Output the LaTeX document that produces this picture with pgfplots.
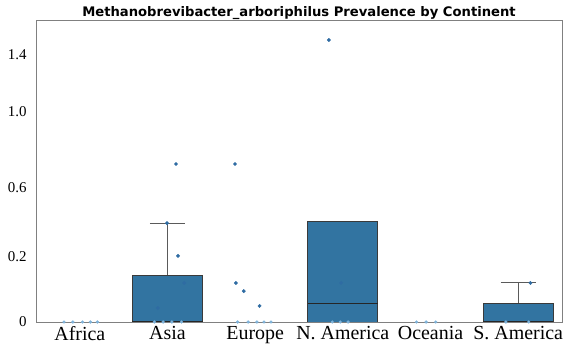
\documentclass[border=0pt]{standalone}
\usepackage{fontspec}
\setmainfont{Liberation Serif}
\newfontfamily\titlefont{DejaVu Sans}
\usepackage{pgfplots}
\usepgfplotslibrary{statistics}
\pgfplotsset{compat=1.18}

\definecolor{boxblue}{HTML}{3274A1}
\definecolor{dotblue}{HTML}{2F6CA3}
\definecolor{zeroblue}{HTML}{7FB3DA}
\definecolor{edgegray}{HTML}{3A3A3A}
\definecolor{whiskgray}{HTML}{5A5A5A}
\definecolor{framegray}{HTML}{808080}

\begin{document}
\begin{tikzpicture}
\begin{axis}[
    scale only axis,
    width=526bp, height=302bp,
    xmin=-0.5, xmax=5.5,
    ymin=0, ymax=1.6,
    xtick={0,1,2,3,4,5},
    xticklabels={Africa, Asia, Europe, N. America, Oceania, S. America},
    ytick={0,0.344,0.710,1.113,1.415},
    yticklabels={0, 0.2, 0.6, 1.0, 1.4},
    major tick length=0pt,
    axis line style={framegray, line width=0.8bp},
    xticklabel style={font=\fontsize{20}{20}\selectfont, yshift=-1bp},
    yticklabel style={font=\fontsize{15}{15}\selectfont, xshift=-6bp},
    title={\titlefont\bfseries\fontsize{13.2}{14}\selectfont Methanobrevibacter\_arboriphilus Prevalence by Continent},
    title style={yshift=-9bp},
    boxplot/draw direction=y,
    boxplot/box extend=0.8,
    boxplot/whisker extend=0.4,
    boxplot/every box/.style={draw=edgegray, fill=boxblue, line width=1bp},
    boxplot/every whisker/.style={draw=whiskgray, line width=1bp},
    boxplot/every median/.style={draw=black!85, line width=1.2bp},
]
% boxes: Asia, N. America, S. America (the rest are all zero)
\addplot[boxplot prepared={lower whisker=0, lower quartile=0, median=0,
    upper quartile=0.244, upper whisker=0.524, draw position=1}] coordinates {};
\addplot[boxplot prepared={lower whisker=0, lower quartile=0, median=0.10,
    upper quartile=0.53, upper whisker=0.53, draw position=3}] coordinates {};
\addplot[boxplot prepared={lower whisker=0, lower quartile=0, median=0,
    upper quartile=0.10, upper whisker=0.207, draw position=5}] coordinates {};

% samples at zero
\addplot[only marks, mark=*, mark size=1.4bp, mark options={draw=zeroblue, fill=zeroblue}] coordinates {
    (-0.18,0) (-0.08,0) (0.03,0) (0.12,0) (0.2,0)
    (0.85,0) (0.95,0) (1.05,0) (1.16,0)
    (1.80,0) (1.92,0) (2.02,0) (2.10,0) (2.18,0)
    (2.88,0) (2.97,0) (3.06,0)
    (3.84,0) (3.95,0) (4.06,0)
    (4.86,0) (5.12,0)
};

% non-zero samples
\addplot[only marks, mark=*, mark size=1.7bp, mark options={draw=dotblue, fill=dotblue}] coordinates {
    (1.097,0.837) (0.994,0.524) (1.12,0.350) (1.19,0.207) (0.89,0.074)
    (1.77,0.837) (1.78,0.207) (1.87,0.164) (2.05,0.085)
    (2.84,1.494) (2.98,0.207)
    (5.14,0.207)
};
\end{axis}
\pgfresetboundingbox
\path (-36bp,-29bp) rectangle (530bp,322bp);
\end{tikzpicture}
\end{document}
